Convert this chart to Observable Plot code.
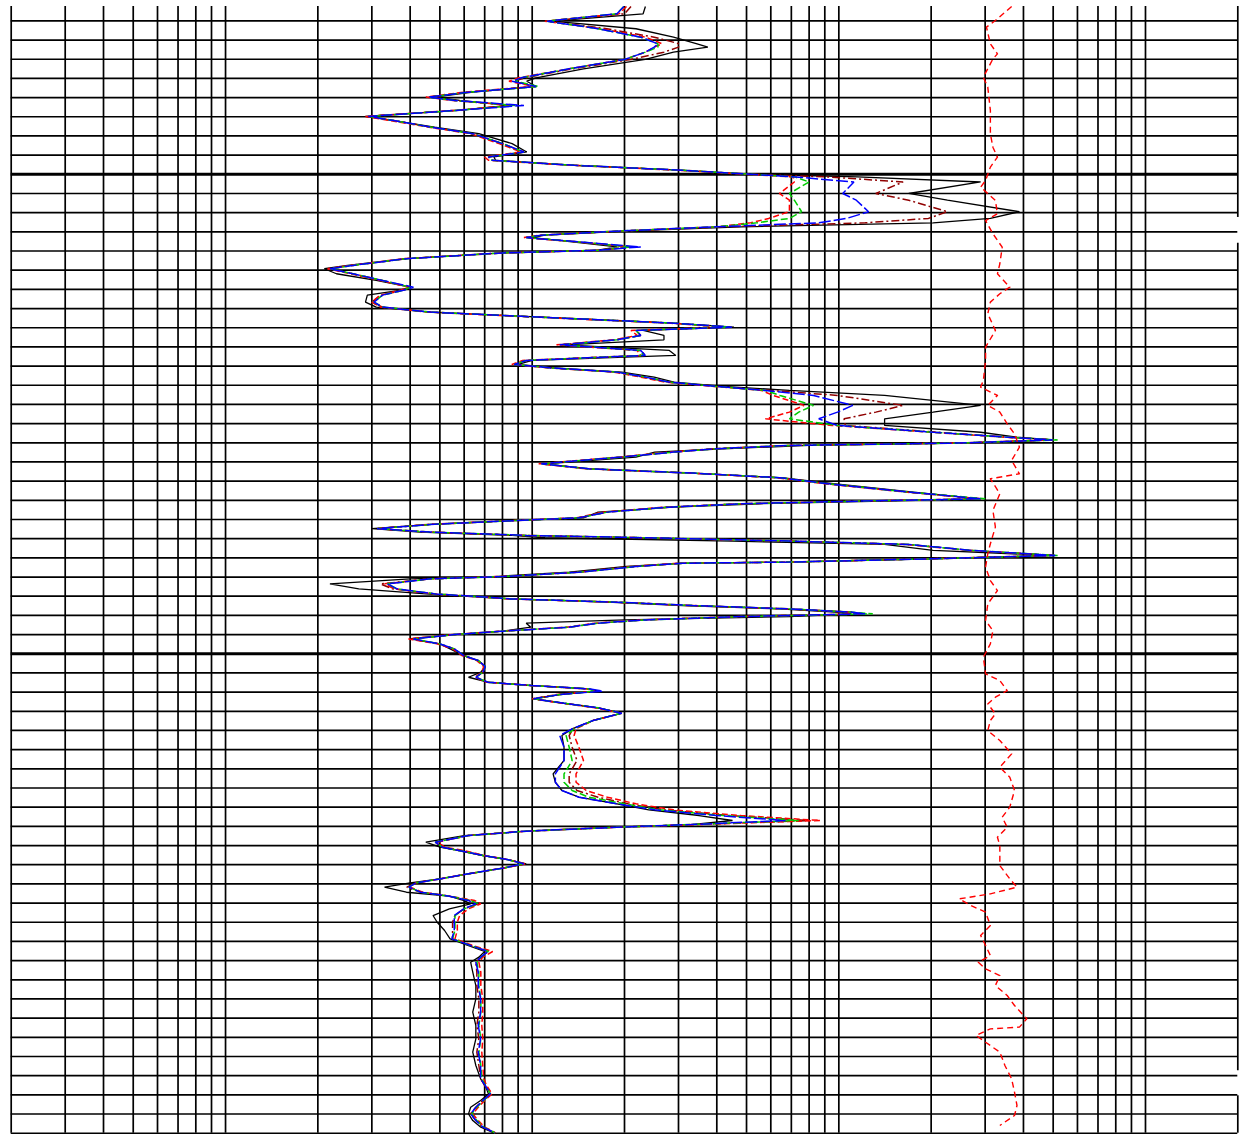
<!DOCTYPE html>
<html>
<head>
<meta charset="utf-8">
<script src="https://cdn.jsdelivr.net/npm/d3@7"></script>
<script src="https://cdn.jsdelivr.net/npm/@observablehq/plot@0.6"></script>
<style>
  html, body { margin: 0; padding: 0; background: #fff; }
  #chart svg { display: block; }
</style>
</head>
<body>
<div id="chart"></div>
<script>
// Depth (m) of each sample of the resistivity curves
const depth = [
  1032.5, 1033.26, 1034.03, 1034.82, 1035.7, 1036.39, 1036.74, 1037.26, 1038.02, 1039.0,
  1039.94, 1040.29, 1040.84, 1041.43, 1041.95, 1042.3, 1042.82, 1043.34, 1043.96, 1044.37,
  1045.07, 1045.76, 1046.8, 1047.67, 1048.19, 1048.54, 1049.06, 1049.58, 1050.0, 1050.27,
  1050.8, 1052.0, 1052.7, 1053.9, 1054.6, 1055.06, 1055.48, 1055.9, 1056.35, 1056.6,
  1057.05, 1057.57, 1057.92, 1058.2, 1058.8, 1059.5, 1059.85, 1060.37, 1061.07, 1061.77,
  1062.1, 1062.6, 1063.33, 1063.85, 1064.37, 1064.72, 1065.17, 1065.52, 1065.94, 1066.28,
  1066.8, 1067.26, 1067.78, 1068.37, 1068.89, 1069.41, 1069.83, 1070.18, 1070.63, 1071.15,
  1071.67, 1072.12, 1072.54, 1073.06, 1074.1, 1074.8, 1075.5, 1076.19, 1076.9, 1077.4,
  1077.7, 1078.03, 1078.27, 1078.62, 1078.97, 1079.49, 1080.19, 1080.71, 1081.16, 1081.65,
  1082.27, 1083.14, 1083.84, 1084.08, 1084.36, 1084.71, 1085.23, 1085.82, 1086.17, 1086.51,
  1086.96, 1087.31, 1087.66, 1087.9, 1088.25, 1088.6, 1089.22, 1089.75, 1090.09, 1090.44,
  1090.56, 1090.9, 1091.5, 1091.95, 1092.19, 1092.71, 1093.23, 1093.76, 1094.28, 1094.62,
  1094.97, 1095.32, 1095.67, 1095.84, 1096.12, 1096.47, 1096.81, 1097.23, 1097.65, 1098.0,
  1098.45, 1098.97, 1099.49, 1100.19, 1100.71, 1101.33, 1101.92, 1102.45, 1102.97, 1103.31,
  1103.66, 1103.9, 1104.25, 1104.7, 1105.16, 1105.64, 1106.2, 1106.96, 1107.83, 1108.53,
  1109.75, 1111.13, 1112.53, 1113.4, 1114.26, 1114.96, 1115.65, 1116.28, 1116.87, 1117.39,
  1117.81, 1118.09, 1118.5, 1118.96, 1119.65, 1120.17, 1120.52, 1121.04, 1121.46, 1121.91,
  1122.36, 1122.95, 1123.48, 1123.89, 1124.34, 1124.87, 1125.28, 1125.74, 1126.08, 1126.6,
  1127.3, 1128.0, 1128.86, 1129.73, 1130.43, 1131.05, 1131.64, 1132.17, 1133.21, 1134.6,
  1135.99, 1137.38, 1138.77, 1140.16, 1141.55, 1142.94, 1144.33, 1145.03, 1145.9, 1146.59,
  1147.29, 1147.98, 1148.68, 1149.37, 1149.96
];

// Resistivity (ohm.m) per curve, one value per depth sample
const resBlack = [
  23.4, 23, 11.6, 21.8, 28.9, 34.5, 37.4, 28.9, 23.4, 14.7,
  10.3, 9.6, 10.3, 6.4, 4.8, 5.8, 8.4, 5.8, 2.86, 3.5,
  4.8, 6.7, 8.6, 9.6, 7.5, 7.6, 14, 31, 53, 115,
  290, 169, 226, 388, 312, 203, 48, 21, 11, 10,
  13.5, 18.9, 16.4, 8, 3.9, 2.5, 2.1, 2.3, 3.1, 4.0,
  3.7, 2.9, 2.86, 3.1, 4.66, 8, 16.4, 28.9, 45.5, 23,
  26.9, 26.9, 12.8, 28, 29.4, 10, 9, 11.8, 19.6, 25,
  29, 42, 69, 141, 290, 203, 141, 141, 290, 380,
  499, 260, 80, 42, 25.1, 21.8, 11, 15.3, 33.3, 66,
  96, 175, 290, 141, 55, 28.9, 16.4, 14.7, 8, 4.66,
  3.0, 4.3, 8.6, 11, 45, 141, 203, 500, 203, 69,
  31, 20.3, 13.2, 7.5, 4.0, 2.19, 2.72, 4.5, 8.4, 17.6,
  31, 64, 100, 110, 69, 20, 9.56, 9.9, 8, 5.57,
  4.0, 5, 5.4, 5.98, 6.67, 7.03, 6.8, 6.2, 7.17, 9.92,
  15.3, 16.4, 12.3, 10.1, 12.7, 16.4, 19.6, 15.8, 13.5, 12.5,
  12.7, 12.7, 11.7, 11.9, 12.5, 14.2, 18.9, 24, 35, 45,
  33, 18.9, 9.56, 6.0, 4.5, 5.0, 5.77, 6.91, 8.3, 9.56,
  8, 6.2, 5, 4.0, 3.3, 3.89, 5.37, 6.0, 6.3, 5.37,
  4.75, 4.9, 5.18, 5.4, 6.2, 7.0, 6.7, 6.3, 6.4, 6.55,
  6.55, 6.4, 6.55, 6.55, 6.4, 6.55, 6.79, 7.03, 7.2, 6.79,
  6.3, 6.2, 6.4, 6.8, 7.5
];

const resDarkRed = [
  21, 20, 11.2, 17.5, 25, 30.2, 30, 26.9, 21, 13.5,
  9.5, 8.7, 10.3, 6.2, 4.6, 5.6, 8.6, 5.6, 2.9, 3.5,
  4.66, 6.4, 8, 9.4, 7.2, 7.4, 13.7, 31, 52, 92,
  162, 132, 169, 226, 196, 122, 42, 20, 10.7, 9.56,
  14.2, 21, 16.4, 8, 3.89, 2.6, 2.19, 2.6, 3.25, 4.0,
  3.8, 3.2, 3.0, 3.25, 4.66, 8, 16.4, 28.9, 44, 21.8,
  22.6, 18.9, 12.3, 22.6, 23.4, 9.56, 8.74, 11.4, 18.9, 23,
  28, 40, 60, 99, 162, 132, 104, 105, 210, 350,
  499, 242, 69, 39.8, 28.9, 19.6, 10.7, 15.3, 33.3, 64.3,
  92, 169, 290, 118, 48, 27.9, 17.6, 14.2, 8, 4.66,
  3.12, 4.66, 9.56, 23.4, 69, 169, 270, 508, 203, 69,
  31, 21.8, 14.2, 8, 4.66, 3.2, 3.5, 4.83, 8.58, 18.9,
  33.3, 69, 111, 120, 48, 23.4, 16.4, 13.2, 8, 5.57,
  4.0, 5, 5.57, 5.98, 6.67, 7.03, 6.91, 6.55, 7.17, 9.92,
  15.3, 16, 12.3, 10.1, 12.7, 16.4, 19.6, 15.8, 13.6, 13.2,
  13.5, 14, 13.2, 13.2, 14, 16.4, 20.5, 27, 44, 80,
  34, 18.9, 9.56, 6.2, 4.83, 5.1, 5.77, 6.91, 8.3, 9.4,
  8, 6.2, 5, 4.18, 3.9, 4.33, 5.37, 6.3, 6.67, 6.0,
  5.6, 5.5, 5.5, 5.5, 6.3, 7.2, 6.8, 6.55, 6.6, 6.6,
  6.7, 6.7, 6.6, 6.7, 6.6, 6.7, 6.8, 7.0, 7.3, 6.9,
  6.55, 6.3, 6.55, 6.9, 7.57
];

const resRed = [
  20.3, 19.2, 11.0, 16.8, 23.5, 26.5, 25, 23.4, 20, 13.2,
  9.0, 8.4, 10.1, 6.0, 4.5, 5.5, 8.6, 5.5, 2.86, 3.4,
  4.55, 6.3, 7.8, 9.2, 7.0, 7.2, 13.5, 30, 50, 71,
  71.6, 64, 69, 69, 59, 51.6, 39.8, 19.6, 10.5, 9.4,
  14, 21, 16.4, 8, 3.8, 2.55, 2.15, 2.55, 3.2, 3.95,
  3.7, 3.2, 3.0, 3.2, 4.55, 7.8, 16, 28, 42, 21,
  22, 18.5, 12, 22, 22.6, 9.3, 8.58, 11.2, 18.5, 22.6,
  27, 39, 56, 61, 77, 69, 57.6, 95, 200, 340,
  499, 242, 69, 39, 28, 19.2, 10.5, 15, 33, 63,
  90, 165, 290, 115, 47, 27, 17, 14, 7.8, 4.6,
  3.1, 4.6, 9.4, 23, 68, 165, 265, 500, 200, 68,
  30, 21, 14, 7.8, 4.6, 3.3, 3.55, 4.75, 8.4, 18.5,
  33, 68, 108, 118, 47, 23, 16, 13, 7.8, 5.5,
  3.95, 4.9, 5.5, 5.9, 6.6, 6.95, 6.85, 6.5, 7.1, 9.8,
  15, 16, 12, 10, 12.5, 16, 19.6, 15.8, 13.9, 13.7,
  14.2, 14.7, 13.9, 13.9, 15, 17.6, 21.8, 28.9, 48, 87,
  35, 19, 9.6, 6.2, 4.9, 5.2, 5.98, 7.0, 8.3, 9.56,
  8, 6.2, 5, 4.18, 4.0, 4.4, 5.4, 6.5, 6.8, 6.2,
  5.8, 5.7, 5.7, 5.6, 6.4, 7.43, 6.9, 6.7, 6.8, 6.8,
  6.9, 6.9, 6.85, 6.9, 6.85, 6.9, 6.95, 7.1, 7.4, 7.0,
  6.67, 6.4, 6.67, 7.0, 7.6
];

const resGreen = [
  19.9, 18.9, 11.2, 16.4, 22.6, 25.7, 25.7, 23.4, 20, 13.2,
  9.2, 8.8, 10.5, 6.2, 4.6, 5.6, 8.8, 5.6, 2.95, 3.5,
  4.66, 6.4, 8, 9.4, 7.2, 7.4, 13.7, 31, 51.6, 72,
  80, 69, 71.6, 75.6, 69, 54, 39.8, 19.6, 10.7, 9.56,
  14.2, 21, 16.4, 8, 3.89, 2.6, 2.2, 2.6, 3.25, 4.0,
  3.8, 3.25, 3.05, 3.25, 4.66, 8, 16.4, 28.9, 44, 21.8,
  22.6, 18.9, 12.5, 22.6, 23, 9.56, 8.74, 11.4, 18.9, 23.4,
  27.9, 39.8, 57.6, 64.3, 82.7, 74, 69, 99, 203, 348,
  517, 242, 69, 39.8, 28.9, 19.6, 10.7, 15.3, 33.3, 64.3,
  92, 169, 300, 118, 48, 27.9, 17.6, 14.2, 8, 4.66,
  3.12, 4.66, 9.56, 23.4, 69, 169, 270, 517, 203, 69,
  31, 21.8, 14.2, 8, 4.66, 3.37, 3.62, 4.83, 8.58, 18.9,
  33.3, 69, 111, 129, 48, 23.4, 16.4, 13.2, 8, 5.57,
  4.1, 5, 5.57, 5.98, 6.67, 7.03, 6.91, 6.55, 7.17, 9.92,
  15.3, 16, 12.3, 10.1, 12.7, 16.4, 19.6, 15.8, 13.7, 12.9,
  13.2, 13.5, 12.7, 12.7, 13.5, 15.3, 20, 26, 42, 74,
  33, 18.9, 9.56, 6.2, 4.83, 5.1, 5.77, 6.91, 8.3, 9.4,
  8, 6.2, 5, 4.18, 3.96, 4.33, 5.37, 6.3, 6.67, 6.0,
  5.6, 5.6, 5.6, 5.5, 6.3, 7.2, 6.8, 6.6, 6.7, 6.7,
  6.8, 6.8, 6.7, 6.8, 6.7, 6.8, 6.85, 7.05, 7.3, 6.95,
  6.6, 6.35, 6.6, 6.95, 7.57
];

const resBlue = [
  19.9, 18.9, 11.2, 16.4, 22.6, 25.7, 25, 23.4, 20, 13.2,
  9.2, 8.6, 10.3, 6.2, 4.6, 5.6, 9.4, 5.6, 2.92, 3.5,
  4.66, 6.4, 8, 9.4, 7.2, 7.4, 13.7, 31, 51.6, 72,
  112, 103, 114, 125, 106, 86, 39.8, 19.6, 10.7, 9.56,
  14.2, 22.6, 16.4, 8, 3.89, 2.6, 2.19, 2.6, 3.25, 4.1,
  3.8, 3.25, 3.05, 3.25, 4.66, 8, 16.4, 28.9, 44.8, 21.8,
  22.6, 18.9, 12.3, 22.6, 23.4, 9.56, 8.74, 11.4, 18.9, 23.4,
  27.9, 39.8, 57.6, 82.7, 111, 99, 86, 99, 203, 348,
  499, 242, 69, 39.8, 28.9, 19.6, 10.7, 15.3, 33.3, 64.3,
  92, 169, 290, 118, 48, 27.9, 17.6, 14.2, 8, 4.66,
  3.12, 4.66, 9.56, 23.4, 69, 169, 270, 508, 203, 69,
  31, 21.8, 14.2, 8, 4.66, 3.37, 3.62, 4.83, 8.58, 18.9,
  33.3, 69, 111, 122, 48, 23.4, 16.4, 13.2, 8, 5.57,
  4.1, 5, 5.57, 5.98, 6.67, 7.03, 6.91, 6.55, 7.17, 9.92,
  15.3, 17, 12.3, 10.1, 12.7, 16.4, 19.6, 15.8, 13.5, 12.3,
  12.7, 12.7, 11.9, 11.9, 12.5, 14.2, 18.9, 25.1, 39.8, 67,
  33, 18.9, 9.56, 6.2, 4.83, 5.1, 5.77, 6.91, 8.3, 9.4,
  8, 6.2, 5, 4.18, 3.96, 4.33, 5.37, 6.2, 6.55, 5.98,
  5.57, 5.57, 5.57, 5.47, 6.3, 7.17, 6.79, 6.55, 6.67, 6.67,
  6.79, 6.79, 6.67, 6.79, 6.67, 6.79, 6.79, 7.03, 7.3, 6.91,
  6.55, 6.3, 6.55, 6.91, 7.57
];

// Right-hand dashed red curve, sampled on its own depths
const auxDepth = [
  1032.5, 1033.96, 1034.65, 1036.39, 1037.44, 1037.96, 1039.87, 1040.91, 1043.34, 1045.78,
  1047.17, 1048.21, 1049.25, 1050.64, 1051.34, 1052.73, 1054.12, 1054.82, 1056.2, 1057.6,
  1059.33, 1060.38, 1061.77, 1062.46, 1063.33, 1064.55, 1066.28, 1068.02, 1069.41, 1071.5,
  1072.19, 1073.06, 1074.1, 1074.8, 1076.02, 1077.06, 1078.45, 1079.84, 1081.23, 1081.75,
  1083.31, 1085.05, 1086.79, 1088.53, 1089.57, 1090.96, 1092.37, 1093.41, 1094.8, 1096.54,
  1097.58, 1098.97, 1100.36, 1102.1, 1102.79, 1103.84, 1104.53, 1105.23, 1106.27, 1106.96,
  1108.01, 1109.05, 1110.44, 1111.83, 1112.87, 1114.26, 1116.0, 1117.04, 1118.09, 1119.13,
  1120.0, 1122.09, 1123.48, 1124.34, 1125.04, 1125.56, 1126.26, 1126.95, 1128.34, 1129.38,
  1130.43, 1131.47, 1132.17, 1132.86, 1133.56, 1134.6, 1135.64, 1136.68, 1138.07, 1138.94,
  1139.12, 1139.81, 1140.51, 1141.55, 1142.94, 1144.33, 1145.72, 1147.11, 1148.15, 1149.2
];
const auxValue = [
  366, 324, 303, 312, 329, 318, 296, 306, 312, 312,
  318, 329, 312, 301, 290, 324, 329, 301, 318, 341,
  335, 329, 361, 335, 312, 306, 324, 301, 301, 296,
  290, 329, 306, 335, 354, 374, 388, 366, 388, 312,
  335, 318, 324, 312, 306, 301, 312, 329, 306, 301,
  318, 312, 296, 301, 335, 354, 324, 306, 324, 312,
  306, 335, 366, 335, 361, 374, 361, 341, 354, 329,
  335, 335, 361, 381, 312, 247, 270, 301, 312, 290,
  301, 312, 285, 301, 335, 324, 354, 374, 410, 388,
  312, 280, 301, 335, 348, 366, 374, 381, 374, 335
];

// Logarithmic grid, 0.2 to 2000 ohm.m
const gridValues = [
  0.2, 0.3, 0.4, 0.5, 0.6, 0.7, 0.8, 0.9,
  1, 2, 3, 4, 5, 6, 7, 8, 9,
  10, 20, 30, 40, 50, 60, 70, 80, 90,
  100, 200, 300, 400, 500, 600, 700, 800, 900,
  1000
];
const edgeValue = 2000;
// The right edge line is drawn in runs (it is broken in two places)
const edgeTop = [1032.5, 1057.2, 1146.1];
const edgeBottom = [1054.5, 1143.5, 1150];

// Depth grid: thin lines every 2 m, heavy lines every 50 m
const depthTop = 1032.5;
const depthBottom = 1150;
const thinDepths = d3.range(1034, 1150, 2).filter(d => d % 50 !== 0);
const heavyDepths = [1050, 1100];

const curveStyles = [
  {values: resBlack,   stroke: "#000000", width: 1.3, dash: null},
  {values: resDarkRed, stroke: "#900000", width: 1.5, dash: "8,3,2,3"},
  {values: resRed,     stroke: "#ff0000", width: 1.5, dash: "6,3"},
  {values: resGreen,   stroke: "#00cc00", width: 1.5, dash: "7,3"},
  {values: resBlue,    stroke: "#0000ff", width: 1.5, dash: "12,3"}
];

const curveMarks = curveStyles.map(c =>
  Plot.line(depth.map((d, i) => ({depth: d, value: c.values[i]})), {
    x: "value",
    y: "depth",
    stroke: c.stroke,
    strokeWidth: c.width,
    strokeDasharray: c.dash,
    strokeLinejoin: "miter",
    strokeLinecap: "butt"
  })
);

const edgeRuns = edgeTop.map((t, i) => ({value: edgeValue, top: t, bottom: edgeBottom[i]}));
const auxData = auxDepth.map((d, i) => ({depth: d, value: auxValue[i]}));

const chart = Plot.plot({
  width: 1243,
  height: 1135,
  marginLeft: 10.7,
  marginRight: 5.7,
  marginTop: 6,
  marginBottom: 2.3,
  style: {background: "#fff"},
  x: {type: "log", domain: [0.2, 2000], axis: null},
  y: {domain: [depthTop, depthBottom], reverse: true, axis: null},
  marks: [
    Plot.ruleX(gridValues, {stroke: "#000", strokeWidth: 1.7}),
    Plot.ruleX(edgeRuns, {x: "value", y1: "top", y2: "bottom", stroke: "#000", strokeWidth: 1.7}),
    Plot.ruleY(thinDepths, {stroke: "#000", strokeWidth: 1.7}),
    Plot.ruleY(heavyDepths, {stroke: "#000", strokeWidth: 3}),
    Plot.ruleY([depthBottom], {stroke: "#000", strokeWidth: 1.5}),
    ...curveMarks,
    Plot.line(auxData, {
      x: "value", y: "depth", stroke: "#ff0000", strokeWidth: 1.4,
      strokeDasharray: "6,4", strokeLinecap: "butt"
    })
  ]
});

document.getElementById("chart").appendChild(chart);
</script>
</body>
</html>
